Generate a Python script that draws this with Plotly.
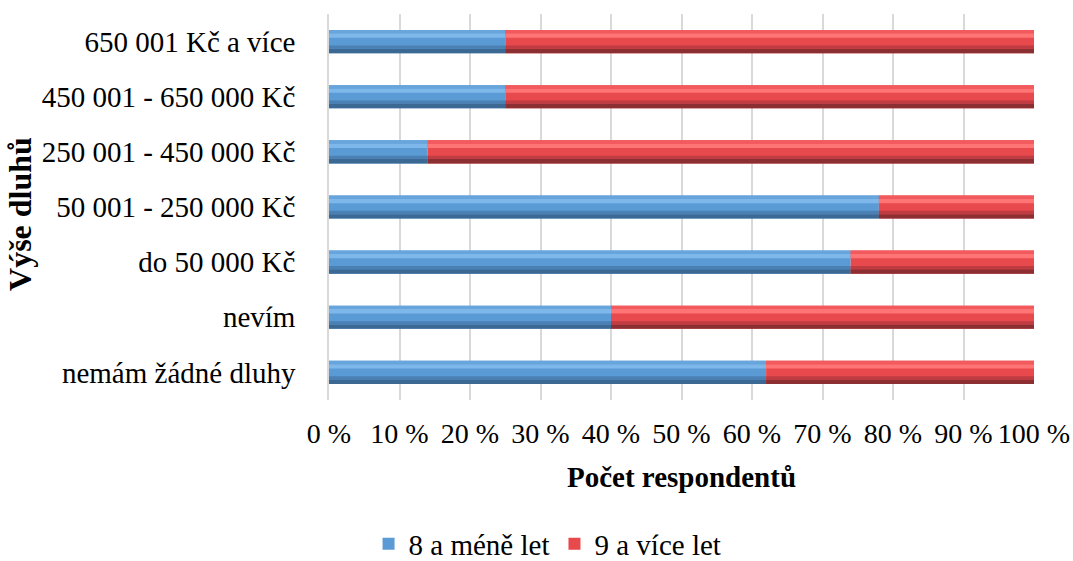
import plotly.graph_objects as go

categories = ["nemám žádné dluhy", "nevím", "do 50 000 Kč", "50 001 - 250 000 Kč",
              "250 001 - 450 000 Kč", "450 001 - 650 000 Kč", "650 001 Kč a více"]
series_names = ["8 a méně let", "9 a více let"]
blue_vals = [62, 40, 74, 78, 14, 25, 25]
red_vals = [38, 60, 26, 22, 86, 75, 75]
x_ticks = list(range(0, 101, 10))

FONT = "Liberation Serif"
FS = 29
BW = 0.42

# bevel layers: (offset, width, color)
blue_layers = [(-0.21, 0.08, "#3c6994"), (-0.13, 0.06, "#4a80b3"),
               (0.07, 0.08, "#7eb8eb"), (0.15, 0.06, "#68a5dc")]
red_layers = [(-0.21, 0.08, "#8c2f33"), (-0.13, 0.06, "#bf3d42"),
              (0.07, 0.08, "#ff7474"), (0.15, 0.06, "#f25a5e")]

fig = go.Figure()

def add_series(name, vals, base, main_color, layers):
    fig.add_trace(go.Bar(
        y=categories, x=vals, base=base, orientation="h", name=name,
        legendgroup=name, width=BW, offset=-BW / 2,
        marker=dict(color=main_color, line=dict(width=0)),
    ))
    for off, w, col in layers:
        fig.add_trace(go.Bar(
            y=categories, x=vals, base=base, orientation="h", name=name,
            legendgroup=name, showlegend=False, width=w, offset=off,
            marker=dict(color=col, line=dict(width=0)), hoverinfo="skip",
        ))

add_series(series_names[0], blue_vals, [0] * len(blue_vals), "#5b9bd5", blue_layers)
add_series(series_names[1], red_vals, blue_vals, "#e8494d", red_layers)

fig.update_layout(
    width=1073, height=561,
    margin=dict(l=329, r=39, t=14, b=161, autoexpand=False),
    barmode="overlay",
    plot_bgcolor="white", paper_bgcolor="white",
    font=dict(family=FONT, size=FS, color="black"),
    showlegend=True,
    legend=dict(orientation="h", x=0.31, xanchor="center", y=-0.373, yanchor="middle",
                font=dict(family=FONT, size=FS), itemwidth=30, traceorder="normal",
                tracegroupgap=0),
    xaxis=dict(range=[0, 100], tickvals=x_ticks, ticktext=[f"{v} %" for v in x_ticks],
               showgrid=True, gridcolor="#d9d9d9", gridwidth=1.5, zeroline=False,
               automargin=False,
               ticks="", ticklabelstandoff=14, tickfont=dict(family=FONT, size=28),
               title=dict(text="<b>Počet respondentů</b>", font=dict(family=FONT, size=FS), standoff=18)),
    yaxis=dict(categoryorder="array", categoryarray=categories, showgrid=False,
               showline=True, linecolor="#d9d9d9", linewidth=1.5, zeroline=False,
               automargin=False,
               ticks="", ticklabelstandoff=26, tickfont=dict(family=FONT, size=FS)),
    annotations=[dict(text="<b>Výše dluhů</b>", textangle=-90, xref="paper", yref="paper",
                      x=(20 - 329) / 705, y=0.482, xanchor="center", yanchor="middle",
                      showarrow=False, font=dict(family=FONT, size=32))],
)

fig.write_html("out.html")
